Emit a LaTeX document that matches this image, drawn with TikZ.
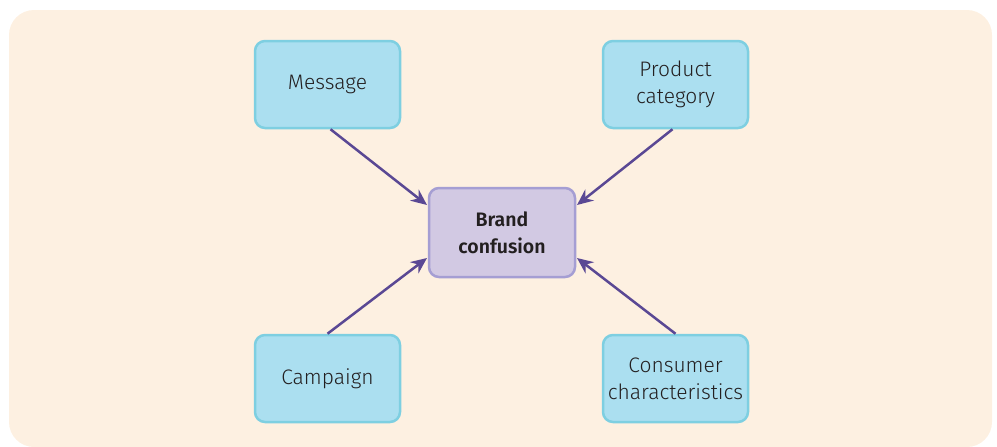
\documentclass[tikz,border=0pt]{standalone}
\usepackage{fontspec}
\setmainfont{Fira Sans Light}[BoldFont={Fira Sans SemiBold}]
\usetikzlibrary{arrows.meta}
\definecolor{bgc}{HTML}{FDF0E1}
\definecolor{bluef}{HTML}{ABDFF0}
\definecolor{blued}{HTML}{7ECFE1}
\definecolor{purf}{HTML}{D2C9E3}
\definecolor{purd}{HTML}{A59ED3}
\definecolor{arr}{HTML}{5A4894}
\definecolor{txt}{HTML}{231F20}
\tikzset{
  factor/.style={draw=blued, fill=bluef, line width=2.5pt, rounded corners=10pt,
    minimum width=145pt, minimum height=87pt, align=center, text=txt,
    font=\fontsize{21}{27}\selectfont, inner sep=0pt},
  centerbox/.style={draw=purd, fill=purf, line width=2.5pt, rounded corners=10pt,
    minimum width=146pt, minimum height=89pt, align=center, text=txt,
    font=\fontsize{19.5}{27}\selectfont\bfseries, inner sep=0pt},
  link/.style={draw=arr, line width=2.5pt, -{Stealth[length=16pt,width=14pt]}}
}
\begin{document}
\begin{tikzpicture}[x=1pt,y=-1pt]
\useasboundingbox (0,0) rectangle (997,447);
\fill[bgc, rounded corners=25pt] (9,10) rectangle (992,447);
\node[factor] (msg) at (327.5,84.5) {Message};
\node[factor] (prod) at (675.5,84.5) {Product\\category};
\node[factor] (camp) at (327.5,378.5) {Campaign};
\node[factor] (cons) at (675.5,378.5) {Consumer\\characteristics};
\node[centerbox] (brand) at (502,232.5) {Brand\\confusion};
\coordinate (b1) at (427,205);
\coordinate (b2) at (577,205);
\coordinate (b3) at (427,258);
\coordinate (b4) at (577,258);
\draw[link] (msg.south) ++(3,0) coordinate (m1) (m1) -- (b1);
\draw[link] (prod.south) ++(-3,0) coordinate (p1) (p1) -- (b2);
\draw[link] (camp.north) coordinate (c1) (c1) -- (b3);
\draw[link] (cons.north) coordinate (k1) (k1) -- (b4);
\end{tikzpicture}
\end{document}
